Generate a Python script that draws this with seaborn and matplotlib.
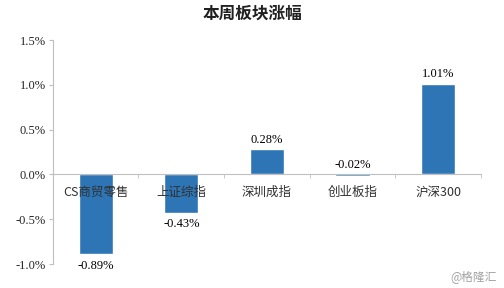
import matplotlib
matplotlib.use("Agg")
import matplotlib.pyplot as plt
import seaborn as sns
import pandas as pd
from matplotlib.ticker import FixedLocator, FuncFormatter

categories = ["CS商贸零售", "上证综指", "深圳成指", "创业板指", "沪深300"]
values = [-0.89, -0.43, 0.28, -0.02, 1.01]
yticks = [-1.0, -0.5, 0.0, 0.5, 1.0, 1.5]
title = "本周板块涨幅"
watermark = "@格隆汇"

sns.set_style("white")
plt.rcParams['font.family'] = ['Noto Sans CJK SC', 'DejaVu Sans']

df = pd.DataFrame({"cat": categories, "val": values})

fig = plt.figure(figsize=(5.04, 2.88), dpi=100)
ax = fig.add_axes([0.105, 0.083, 0.849, 0.778])
sns.barplot(data=df, x="cat", y="val", color="#2E75B6", saturation=1, width=0.4, ax=ax)
ax.set_axisbelow(False)

ax.set_ylim(-1.0, 1.5)
ax.set_xlim(-0.5, len(categories) - 0.5)
ax.yaxis.set_major_locator(FixedLocator(yticks))
ax.yaxis.set_major_formatter(FuncFormatter(lambda v, p: f"{v:.1f}%"))
for t in ax.get_yticklabels():
    t.set_fontfamily(['Liberation Serif'])
    t.set_fontsize(9)
ax.tick_params(axis='y', which='major', length=3, color='#BFBFBF', left=True, pad=2)

ax.spines['top'].set_visible(False)
ax.spines['right'].set_visible(False)
ax.spines['left'].set_color('#BFBFBF')
ax.spines['bottom'].set_color('#BFBFBF')
ax.spines['bottom'].set_position(('data', 0))

ax.xaxis.set_minor_locator(FixedLocator([i - 0.5 for i in range(len(categories) + 1)]))
ax.tick_params(axis='x', which='major', length=0, pad=8, labelsize=9, labelcolor='#303030')
ax.tick_params(axis='x', which='minor', length=3, color='#BFBFBF', bottom=True, direction='out')
ax.set_xlabel("")
ax.set_ylabel("")

for i, v in enumerate(values):
    if v >= 0 or abs(v) < 0.05:
        y = max(v, 0) + 0.04
        va = 'bottom'
    else:
        y = v - 0.06
        va = 'top'
    ax.text(i, y, f"{v:.2f}%", ha='center', va=va, fontsize=9,
            family=['Liberation Serif'], color='#000000')

fig.suptitle(title, x=0.5, y=0.985, fontsize=12, fontweight='bold', color='#202020')
fig.text(0.985, 0.04, watermark, ha='right', va='center', fontsize=8.5, color='#A0A0A0')

fig.savefig("out.png", dpi=100)
